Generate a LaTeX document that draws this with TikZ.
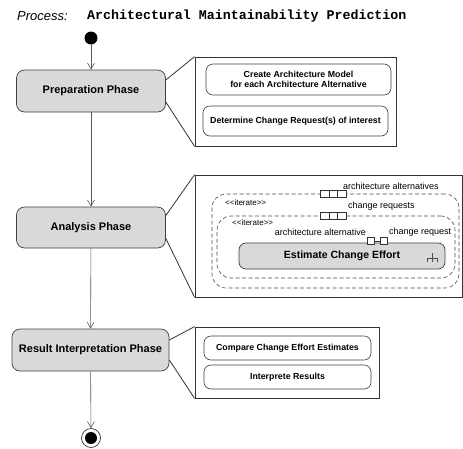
\documentclass[tikz,border=0pt]{standalone}
\usepackage{fontspec}
\setmainfont{Liberation Sans}
\setsansfont{Liberation Sans}
\setmonofont{Liberation Mono}
\usetikzlibrary{arrows.meta,positioning}

\begin{document}
\begin{tikzpicture}[
  x=1pt, y=-1pt,
  font=\sffamily,
  phase/.style={draw=black!75, rounded corners=8pt, fill=black!15, line width=0.7pt, align=center, font=\sffamily\bfseries\fontsize{11}{13}\selectfont},
  callout/.style={draw=black!80, line width=0.8pt, fill=white},
  task/.style={draw=black!75, rounded corners=7pt, fill=white, line width=0.6pt, align=center, font=\sffamily\bfseries\fontsize{8.8}{10.5}\selectfont},
  region/.style={draw=black!70, dash pattern=on 4pt off 2.5pt, rounded corners=14pt, line width=0.6pt},
  cell/.style={draw=black!80, fill=white, minimum width=8.7pt, minimum height=7pt, inner sep=0pt, line width=0.6pt},
  label/.style={inner sep=0pt, font=\sffamily\fontsize{9}{10}\selectfont},
  stereo/.style={inner sep=0pt, font=\sffamily\fontsize{8}{9}\selectfont},
  flow/.style={-{Straight Barb[length=6pt,width=7pt]}, draw=black!65, line width=0.6pt},
  pointer/.style={draw=black!80, line width=0.8pt}
]
\useasboundingbox (0,0) rectangle (463,448);

% title
\node[anchor=west, inner sep=0pt, font=\sffamily\itshape\fontsize{13}{15}\selectfont] (proc) at (17,16) {Process:};
\node[anchor=west, inner sep=0pt, font=\ttfamily\bfseries\fontsize{13.3}{15}\selectfont] (pname) at (87,16) {Architectural Maintainability Prediction};

% control flow
\node[circle, fill=black, minimum size=13pt, inner sep=0pt] (start) at (91,38) {};
\node[phase, minimum width=149pt, minimum height=42pt] (prep) at (91,91) {Preparation Phase};
\node[phase, minimum width=149pt, minimum height=41pt] (ana) at (91,227.5) {Analysis Phase};
\node[phase, minimum width=157pt, minimum height=42pt] (res) at (90.5,350) {Result Interpretation Phase};
\node[circle, draw=black!80, line width=0.7pt, minimum size=19pt, inner sep=0pt] (stop) at (91,438) {};
\node[circle, fill=black, minimum size=12pt, inner sep=0pt] (stopdot) at (stop) {};

\draw[flow] (start) -- (prep);
\draw[flow] (prep) -- (ana);
\draw[flow] (ana) -- (res);
\draw[flow] (res) -- (stop);

% preparation details
\node[callout, minimum width=201pt, minimum height=89pt] (prepbox) at (295.5,101.5) {};
\draw[pointer] ([yshift=11pt]prep.east) -- (prepbox.north west);
\draw[pointer] ([yshift=-11pt]prep.east) -- (prepbox.south west);
\node[task, minimum width=185pt, minimum height=31pt] (model) at (298.5,79.5)
  {Create Architecture Model\\for each Architecture Alternative};
\node[task, minimum width=185pt, minimum height=30pt] (request) at (295.5,121)
  {Determine Change Request(s) of interest};

% analysis details
\node[callout, minimum width=267pt, minimum height=122pt] (anabox) at (328.5,236) {};
\draw[pointer] ([yshift=12pt]ana.east) -- (anabox.north west);
\draw[pointer] ([yshift=-11pt]ana.east) -- (anabox.south west);
\node[region, minimum width=247pt, minimum height=94pt] (outer) at (335.5,241) {};
\node[region, minimum width=238pt, minimum height=62pt] (inner) at (336,247) {};
\node[phase, rounded corners=7pt, minimum width=206pt, minimum height=26pt, font=\sffamily\bfseries\fontsize{10.5}{12}\selectfont] (effort) at (342,256) {Estimate Change Effort};

% expansion nodes
\node[cell] (alta) at (324.5,194) {};
\node[cell, right=-0.6pt of alta] (altb) {};
\node[cell, right=-0.6pt of altb] (altc) {};
\node[cell] (crqa) at (324.5,216) {};
\node[cell, right=-0.6pt of crqa] (crqb) {};
\node[cell, right=-0.6pt of crqb] (crqc) {};

% pins
\node[cell, minimum width=7pt] (pinalt) at (371,241) {};
\node[cell, minimum width=7pt] (pincrq) at (383.5,241) {};
\draw[draw=black!80, line width=0.6pt] (pinalt) -- (pincrq);

% rake
\draw[draw=black!70, line width=0.6pt] (432,253) -- (432,262) (427,262) -- (427,258) -- (437,258) -- (437,262);

\node[label, anchor=west] (altlbl) at (343,186) {architecture alternatives};
\node[label, anchor=west] (crqlbl) at (348,206) {change requests};
\node[stereo, anchor=west] (iter1) at (225,203) {<\kern0pt<iterate>\kern0pt>};
\node[stereo, anchor=west] (iter2) at (232,223) {<\kern0pt<iterate>\kern0pt>};
\node[label, anchor=east] (pinaltlbl) at (366,232) {architecture alternative};
\node[label, anchor=west] (pincrqlbl) at (389,232) {change request};

% result interpretation details
\node[callout, minimum width=184pt, minimum height=71pt] (resbox) at (287,362.5) {};
\draw[pointer] ([yshift=10pt]res.east) -- (resbox.north west);
\draw[pointer] ([yshift=-10pt]res.east) -- (resbox.south west);
\node[task, minimum width=167pt, minimum height=24pt] (compare) at (287.5,348) {Compare Change Effort Estimates};
\node[task, minimum width=167pt, minimum height=24pt] (interp) at (287.5,377) {Interprete Results};

\end{tikzpicture}
\end{document}
